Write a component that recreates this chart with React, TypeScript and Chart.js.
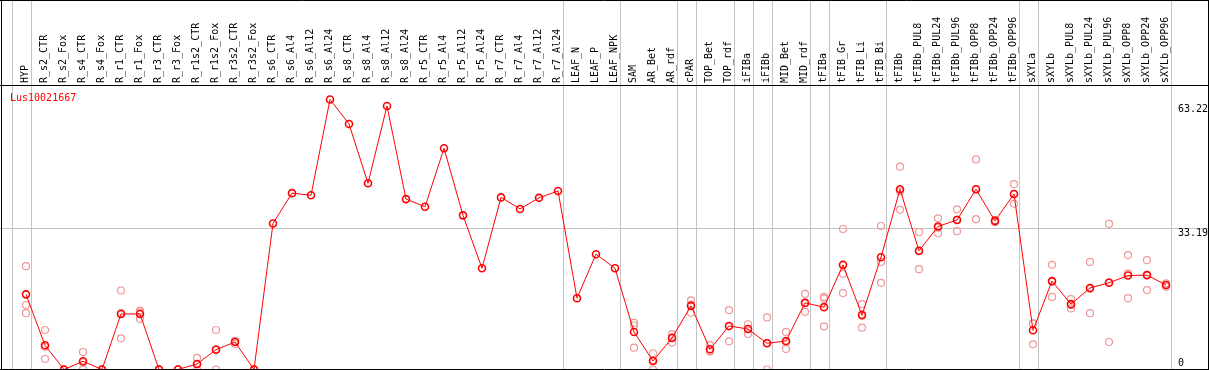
import React, { useEffect, useRef } from "react";
import { Chart, registerables } from "chart.js";

Chart.register(...registerables);

const categories = [
  "HYP", "R_s2_CTR", "R_s2_Fox", "R_s4_CTR", "R_s4_Fox", "R_r1_CTR", "R_r1_Fox", "R_r3_CTR", "R_r3_Fox",
  "R_r1s2_CTR", "R_r1s2_Fox", "R_r3s2_CTR", "R_r3s2_Fox", "R_s6_CTR", "R_s6_Al4", "R_s6_Al12", "R_s6_Al24",
  "R_s8_CTR", "R_s8_Al4", "R_s8_Al12", "R_s8_Al24", "R_r5_CTR", "R_r5_Al4", "R_r5_Al12", "R_r5_Al24",
  "R_r7_CTR", "R_r7_Al4", "R_r7_Al12", "R_r7_Al24", "LEAF_N", "LEAF_P", "LEAF_NPK", "SAM", "AR_Bet", "AR_rdf",
  "cPAR", "TOP_Bet", "TOP_rdf", "iFIBa", "iFIBb", "MID_Bet", "MID_rdf", "tFIBa", "tFIB_Gr", "tFIB_Li", "tFIB_Bi",
  "tFIBb", "tFIBb_PUL8", "tFIBb_PUL24", "tFIBb_PUL96", "tFIBb_OPP8", "tFIBb_OPP24", "tFIBb_OPP96",
  "sXYLa", "sXYLb", "sXYLb_PUL8", "sXYLb_PUL24", "sXYLb_PUL96", "sXYLb_OPP8", "sXYLb_OPP24", "sXYLb_OPP96",
];

const meanValues = [
  17.6, 5.67, 0, 1.92, 0, 13.0, 13.0, 0, 0, 1.29, 4.64, 6.44, 0,
  34.2, 41.3, 40.8, 63.22, 57.5, 43.6, 61.7, 39.9, 38.1, 51.8, 36.1, 23.7, 40.3, 37.6, 40.2, 41.8,
  16.7, 27.0, 23.7, 8.78, 1.99, 7.38, 14.9, 4.73, 10.2, 9.48, 6.14, 6.67, 15.6,
  14.6, 24.5, 12.7, 26.3, 42.2, 27.8, 33.5, 35.0, 42.2, 34.8, 41.1,
  9.18, 20.7, 15.3, 19.1, 20.3, 22.0, 22.1, 19.8,
];

const replicateA = [
  24.2, 9.25, 0, 4.1, 0, 18.5, 13.8, 0, 0, 2.7, 9.25, 6.0, 0,
  null, null, null, null, null, null, null, null, null, null, null, null, null, null, null, null,
  null, null, null, 10.9, 3.8, 8.3, 16.2, 5.7, 13.9, 10.6, 12.2, 8.8, 17.7,
  17.0, 32.9, 15.3, 33.6, 47.5, 32.2, 35.4, 37.5, 49.2, 34.5, 43.4,
  10.8, 24.5, 16.5, 25.2, 34.1, 26.8, 25.6, 20.2,
];

const replicateB = [
  15.1, 2.46, 0, 0, 0, 7.3, 11.8, 0, 0, 0, 0, 6.6, 0,
  null, null, null, null, null, null, null, null, null, null, null, null, null, null, null, null,
  null, null, null, 10.3, 0, 6.3, 13.3, 4.2, 6.6, 8.3, 0, 4.8, 13.5,
  16.6, 22.4, 9.8, 25.2, 37.4, 23.5, 31.9, 32.4, 35.2, 35.0, 38.8,
  5.9, 17.0, 14.3, 13.2, 6.44, 16.7, 18.6, 19.4,
];

const replicateC = [
  13.2, 5.3, 0, 1.7, 0, 13.2, 13.4, 0, 0, 1.2, 4.7, 6.7, 0,
  null, null, null, null, null, null, null, null, null, null, null, null, null, null, null, null,
  null, null, null, 5.1, 2.2, 7.5, 15.2, 4.3, 10.1, 9.5, 6.2, 6.4, 15.6,
  10.1, 17.9, 13.0, 20.3, 41.7, 27.7, 33.2, 35.1, 42.2, 34.9, 41.1,
  10.8, 20.6, 15.1, 18.9, 20.4, 22.5, 22.1, 19.8,
];

const yTickValues = [0, 33.19, 63.22];
const gridValue = 33.19;
const geneLabel = "Lus10021667";
// indices after which a group separator line is drawn (-1 = before the first)
const groupEnds = [-1, 0, 28, 31, 34, 35, 37, 38, 39, 41, 42, 45, 52, 53, 60];

const MONO = "'DejaVu Sans Mono', 'Liberation Mono', monospace";

const toPoints = (arr: (number | null)[]) =>
  arr.map((v, i) => (v === null ? null : { x: i, y: v })).filter((p) => p !== null) as { x: number; y: number }[];

const decorPlugin = {
  id: "decor",
  beforeDraw(chart: any) {
    const { ctx, width, height } = chart;
    const xs = chart.scales.x;
    const ys = chart.scales.y;
    ctx.save();
    ctx.fillStyle = "#ffffff";
    ctx.fillRect(0, 0, width, height);
    ctx.strokeStyle = "#c4c4c4";
    ctx.lineWidth = 1;
    for (const g of groupEnds) {
      const px = Math.round(xs.getPixelForValue(g + 0.24)) + 0.5;
      ctx.beginPath();
      ctx.moveTo(px, 0);
      ctx.lineTo(px, height);
      ctx.stroke();
    }
    const gy = Math.round(ys.getPixelForValue(gridValue)) + 0.5;
    ctx.beginPath();
    ctx.moveTo(0, gy);
    ctx.lineTo(width, gy);
    ctx.stroke();
    ctx.restore();
  },
  afterDraw(chart: any) {
    const { ctx, width, chartArea } = chart;
    const ys = chart.scales.y;
    ctx.save();
    ctx.strokeStyle = "#000000";
    ctx.lineWidth = 1;
    ctx.beginPath();
    ctx.moveTo(0, 0.5);
    ctx.lineTo(width, 0.5);
    ctx.moveTo(0, 85.5);
    ctx.lineTo(width, 85.5);
    ctx.moveTo(0, 369.5);
    ctx.lineTo(width, 369.5);
    ctx.moveTo(1.5, 0);
    ctx.lineTo(1.5, 370);
    ctx.moveTo(width - 0.5, 0);
    ctx.lineTo(width - 0.5, 370);
    ctx.stroke();

    ctx.font = `10px ${MONO}`;
    ctx.textBaseline = "alphabetic";
    ctx.textAlign = "left";
    ctx.fillStyle = "#ff0000";
    ctx.fillText(geneLabel, 10, 101);

    ctx.fillStyle = "#000000";
    for (const v of yTickValues) {
      const p = ys.getPixelForValue(v);
      let base = p + 8.5;
      base = Math.max(base, chartArea.top + 27);
      base = Math.min(base, chartArea.bottom - 4);
      ctx.fillText(v === 0 ? "0" : v.toFixed(2), 1178, base);
    }
    ctx.restore();
  },
};

export default function App() {
  const ref = useRef<HTMLCanvasElement | null>(null);

  useEffect(() => {
    document.body.style.margin = "0";
    const canvas = ref.current;
    if (!canvas) return;
    const chart = new Chart(canvas, {
      type: "line",
      data: {
        datasets: [
          {
            label: "mean",
            data: toPoints(meanValues),
            borderColor: "#ff0000",
            borderWidth: 1,
            pointRadius: 3.5,
            pointBorderWidth: 1.6,
            pointBorderColor: "#ff0000",
            pointBackgroundColor: "rgba(0,0,0,0)",
            tension: 0,
            showLine: true,
          },
          ...[replicateA, replicateB, replicateC].map((arr, k) => ({
            label: `rep${k + 1}`,
            data: toPoints(arr),
            showLine: false,
            borderColor: "#f09898",
            pointRadius: 3.5,
            pointBorderWidth: 1.2,
            pointBorderColor: "#f09898",
            pointBackgroundColor: "rgba(0,0,0,0)",
          })),
        ],
      },
      options: {
        animation: false,
        responsive: false,
        maintainAspectRatio: false,
        layout: { padding: 0, autoPadding: false },
        plugins: {
          legend: { display: false },
          tooltip: { enabled: false },
          title: { display: false },
        },
        scales: {
          x: {
            type: "linear",
            position: "top",
            min: -26 / 19,
            max: (1209 - 26) / 19,
            afterBuildTicks: (axis: any) => {
              axis.ticks = categories.map((_, i) => ({ value: i }));
            },
            afterFit: (axis: any) => {
              axis.height = 85;
              axis.paddingLeft = 0;
              axis.paddingRight = 0;
            },
            grid: { display: false, drawTicks: false, tickLength: 0 },
            border: { display: false },
            ticks: {
              autoSkip: false,
              minRotation: 90,
              maxRotation: 90,
              padding: 2,
              labelOffset: 11.5,
              color: "#000000",
              font: { family: MONO, size: 10 },
              callback: (value: any) => categories[Math.round(Number(value))] ?? "",
            },
          },
          y: {
            type: "linear",
            display: false,
            min: -0.117,
            max: 66.62,
          },
        },
      },
      plugins: [decorPlugin],
    } as any);
    return () => chart.destroy();
  }, []);

  return <canvas ref={ref} width={1209} height={370} style={{ display: "block", width: 1209, height: 370 }} />;
}
